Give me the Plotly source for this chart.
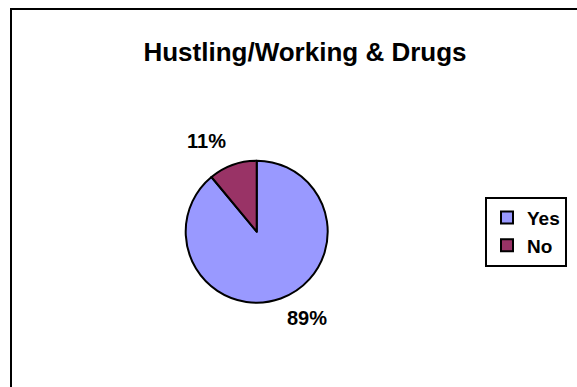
import math
import plotly.graph_objects as go

# Survey answers and their shares (percent)
categories = ["Yes", "No"]
shares = [89, 11]
slice_colors = ["#9999FF", "#993366"]
chart_title = "Hustling/Working & Drugs"

W, H = 577, 387
FONT = "Liberation Sans, Arial, sans-serif"

# Pie placement in pixels (center and radius)
cx, cy, r = 256.7, 231.7, 71.0


def px_x(x):
    return x / W


def px_y(y):
    return 1 - y / H


fig = go.Figure()
fig.add_trace(go.Pie(
    labels=categories,
    values=shares,
    sort=False,
    direction="clockwise",
    rotation=0,
    textinfo="none",
    hoverinfo="label+percent",
    marker=dict(colors=slice_colors, line=dict(color="black", width=2)),
    domain=dict(x=[px_x(cx - r), px_x(cx + r)], y=[px_y(cy + r), px_y(cy - r)]),
    showlegend=True,
))

# Percentage labels placed just outside each slice's mid-angle
total = sum(shares)
start = 0.0
annotations = []
for cat, v in zip(categories, shares):
    frac = v / total
    mid = start + frac / 2  # fraction of a turn, clockwise from 12 o'clock
    start += frac
    ang = 2 * math.pi * mid
    gap = 14
    px = cx + (r + gap) * math.sin(ang)
    py = cy - (r + gap) * math.cos(ang)
    upper = math.cos(ang) > 0
    annotations.append(dict(
        x=px_x(px), y=px_y(py), xref="paper", yref="paper",
        text=f"{round(frac * 100)}%", showarrow=False,
        xanchor="left" if math.sin(ang) > 0 else "right",
        yanchor="bottom" if upper else "top",
        yshift=-2 if upper else 7,
        font=dict(family=FONT, size=20, color="black", weight="bold"),
    ))

fig.update_layout(
    width=W, height=H,
    margin=dict(l=0, r=0, t=0, b=0),
    paper_bgcolor="white",
    plot_bgcolor="white",
    title=dict(
        text=chart_title,
        x=px_x(305), xanchor="center",
        y=px_y(52), yanchor="middle", yref="container",
        font=dict(family=FONT, size=26, color="black", weight="bold"),
    ),
    legend=dict(
        x=px_x(567), xanchor="right",
        y=px_y(231.7), yanchor="middle",
        bordercolor="black", borderwidth=2,
        bgcolor="white",
        font=dict(family=FONT, size=19, color="black", weight="bold"),
        traceorder="normal",
    ),
    annotations=annotations,
    shapes=[dict(
        type="rect", xref="paper", yref="paper",
        x0=px_x(11), x1=1.1, y0=-0.1, y1=px_y(9),
        line=dict(color="black", width=2), fillcolor="rgba(0,0,0,0)",
        layer="below",
    )],
)

fig.write_html("out.html")
